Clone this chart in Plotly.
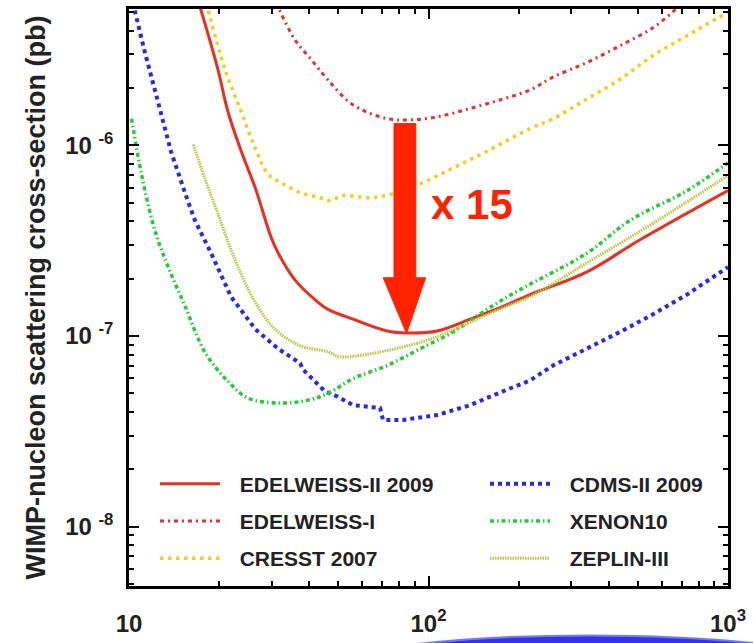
import plotly.graph_objects as go
import numpy as np

# ---------------- data (WIMP mass in GeV, cross-section in pb) ----------------
edw2_mass = [17.1, 19.8, 21.4, 23.7, 26.4, 29.8, 31.5, 35.8, 41.8, 46.2, 56.0, 72.7, 84.8, 106.8, 137.6, 177.3, 218.3, 338.2, 508.4, 1000]
edw2_sigma = [5.6e-6, 2.51e-6, 1.50e-6, 9.3e-7, 5.98e-7, 3.30e-7, 2.72e-7, 1.97e-7, 1.55e-7, 1.38e-7, 1.225e-7, 1.062e-7, 1.037e-7, 1.062e-7, 1.225e-7, 1.43e-7, 1.65e-7, 2.17e-7, 3.2e-7, 5.8e-7]

edw1_mass = [31.0, 35.8, 40.5, 46.2, 56.0, 72.7, 86.8, 106.8, 137.6, 177.3, 218.3, 260.4, 338.2, 435.9, 561.9, 670.5, 702.2]
edw1_sigma = [5.6e-6, 3.58e-6, 2.83e-6, 2.20e-6, 1.63e-6, 1.38e-6, 1.36e-6, 1.41e-6, 1.56e-6, 1.75e-6, 1.95e-6, 2.28e-6, 2.72e-6, 3.33e-6, 4.14e-6, 5.19e-6, 5.6e-6]

cresst_mass = [18.1, 20.9, 23.7, 26.4, 29.1, 32.2, 37.5, 43.4, 46.9, 51.8, 63.8, 76.1, 93.7, 120.7, 156.8, 218.3, 260.4, 338.2, 435.9, 561.9, 729.7, 1000]
cresst_sigma = [5.6e-6, 2.51e-6, 1.50e-6, 9.65e-7, 7.08e-7, 6.36e-7, 5.64e-7, 5.31e-7, 5.13e-7, 5.45e-7, 5.31e-7, 5.57e-7, 6.28e-7, 7.60e-7, 9.31e-7, 1.225e-6, 1.38e-6, 1.75e-6, 2.22e-6, 2.96e-6, 3.76e-6, 5.0e-6]

cdms_mass = [10.3, 11.3, 12.5, 13.8, 15.7, 16.6, 18.8, 21.9, 26.4, 31.5, 37.3, 38.0, 45.1, 49.5, 56.0, 68.9, 70.5, 82.2, 106.8, 137.6, 177.3, 218.3, 260.4, 338.2, 435.9, 561.9, 729.7, 1000]
cdms_sigma = [5.6e-6, 3.07e-6, 1.69e-6, 9.31e-7, 5.13e-7, 4.04e-7, 2.72e-7, 1.61e-7, 1.087e-7, 8.57e-8, 7.2e-8, 6.7e-8, 5.13e-8, 4.83e-8, 4.34e-8, 4.19e-8, 3.63e-8, 3.63e-8, 3.85e-8, 4.34e-8, 5.13e-8, 5.85e-8, 7.00e-8, 8.57e-8, 1.05e-7, 1.30e-7, 1.65e-7, 2.3e-7]

xenon_mass = [10.2, 11.0, 12.2, 13.5, 15.4, 17.9, 21.4, 25.0, 32.2, 39.6, 46.2, 56.0, 72.7, 93.7, 120.7, 156.8, 202.1, 338.2, 470.8, 729.7, 1000]
xenon_sigma = [1.38e-6, 7.08e-7, 3.58e-7, 2.31e-7, 1.43e-7, 8.26e-8, 5.78e-8, 4.72e-8, 4.45e-8, 4.61e-8, 5.00e-8, 5.98e-8, 7.00e-8, 8.57e-8, 1.05e-7, 1.38e-7, 1.75e-7, 2.72e-7, 4.04e-7, 5.78e-7, 8.1e-7]

zeplin_mass = [16.4, 17.9, 19.8, 22.6, 26.4, 30.7, 37.5, 46.2, 50.6, 63.8, 82.2, 106.8, 137.6, 177.3, 218.3, 338.2, 561.9, 1000]
zeplin_sigma = [1.01e-6, 6.74e-7, 4.39e-7, 2.51e-7, 1.50e-7, 1.087e-7, 8.87e-8, 8.26e-8, 7.78e-8, 8.07e-8, 8.77e-8, 9.89e-8, 1.18e-7, 1.41e-7, 1.61e-7, 2.42e-7, 3.90e-7, 6.95e-7]

# arrow marking the improvement factor (mass, cross-section polygon)
arrow_mass = [76.7, 90.7, 90.7, 97.8, 84.5, 70.6, 76.7, 76.7]
arrow_sigma = [1.30e-6, 1.30e-6, 2.02e-7, 2.02e-7, 1.03e-7, 2.02e-7, 2.02e-7, 1.30e-6]
arrow_label = "x 15"
arrow_label_pos = (139.6, 4.9e-7)

x_tickvals = [10, 100, 1000]
x_ticktext = ["10", "10<sup>2</sup>", "10<sup>3</sup>"]
y_tickvals = [1e-8, 1e-7, 1e-6]
y_ticktext = ["10 <sup>-8</sup>", "10 <sup>-7</sup>", "10 <sup>-6</sup>"]
x_minor = [20, 30, 40, 50, 60, 70, 80, 90, 200, 300, 400, 500, 600, 700, 800, 900]
y_minor = [v * 10.0 ** e for e in (-9, -8, -7, -6) for v in range(2, 10)]

FONT = "Liberation Sans, Arial, Helvetica, sans-serif"
GAP = "\u2002\u2009"  # spacing between legend sample and label

fig = go.Figure()

def add(name, xs, ys, color, width, dash, legend, group, shape="spline"):
    line = dict(color=color, width=width, dash=dash, shape=shape)
    if shape == "spline":
        line["smoothing"] = 1.0
    fig.add_trace(go.Scatter(
        x=xs, y=ys, mode="lines", name=GAP + name, line=line,
        legend=legend, legendgroup=group,
    ))

add("EDELWEISS-II 2009", edw2_mass, edw2_sigma, "#e8301c", 3, "solid", "legend", "a")
add("EDELWEISS-I", edw1_mass, edw1_sigma, "#dd3535", 3, "4px,4px,2px,4px", "legend", "b")
add("CRESST 2007", cresst_mass, cresst_sigma, "#f7cd1e", 3.5, "3.5px,4.5px", "legend", "c")
add("CDMS-II 2009", cdms_mass, cdms_sigma, "#2a2ae6", 4, "4px,4px", "legend2", "d", shape="linear")
add("XENON10", xenon_mass, xenon_sigma, "#22cc33", 3.5, "4px,3px,1.5px,3px", "legend2", "e")
add("ZEPLIN-III", zeplin_mass, zeplin_sigma, "#b8c83c", 3, "1.5px,1px", "legend2", "f")

fig.add_trace(go.Scatter(
    x=arrow_mass, y=arrow_sigma, mode="lines", fill="toself",
    fillcolor="#ff2200", line=dict(color="#ff2200", width=1),
    showlegend=False, hoverinfo="skip",
))

fig.add_annotation(
    x=np.log10(arrow_label_pos[0]), y=np.log10(arrow_label_pos[1]), xref="x", yref="y",
    text=arrow_label, showarrow=False,
    font=dict(family=FONT, size=42, color="#ff2200", weight="bold"),
)

axis_common = dict(
    type="log", showgrid=False, zeroline=False,
    showline=True, linecolor="black", linewidth=2.5, mirror="ticks",
    ticks="inside", ticklen=10, tickwidth=2, tickcolor="black",
    tickfont=dict(family=FONT, size=24, color="#222", weight="bold"),
)

fig.update_xaxes(
    **axis_common, range=[1, 3],
    tickvals=x_tickvals, ticktext=x_ticktext, ticklabelstandoff=14,
    minor=dict(tickvals=x_minor, ticks="inside", ticklen=5, tickwidth=2, tickcolor="black"),
)
fig.update_yaxes(
    **axis_common, range=[-8.311, -5.285],
    tickvals=y_tickvals, ticktext=y_ticktext, ticklabelstandoff=8,
    minor=dict(tickvals=y_minor, ticks="inside", ticklen=5, tickwidth=2, tickcolor="black"),
    title=dict(text="WIMP-nucleon scattering cross-section (pb)",
               font=dict(family=FONT, size=27, color="#222", weight="bold"), standoff=12),
)

legend_common = dict(
    font=dict(family=FONT, size=21, color="#222", weight="bold"),
    bgcolor="rgba(0,0,0,0)", borderwidth=0, itemwidth=60,
    tracegroupgap=7, xanchor="left", yanchor="top", orientation="v",
)

fig.update_layout(
    width=753, height=643,
    margin=dict(l=129, r=25, t=6, b=53),
    paper_bgcolor="white", plot_bgcolor="white",
    legend=dict(**legend_common, x=(155 - 129) / 599, y=(590 - 466) / 584),
    legend2=dict(**legend_common, x=(485 - 129) / 599, y=(590 - 466) / 584),
    shapes=[dict(type="circle", xref="paper", yref="paper",
                 x0=0.2187, x1=1.3205, y0=-0.291, y1=-0.0856,
                 fillcolor="#3232ea", line=dict(color="#7a7af2", width=2), layer="above")],
)

fig.write_html("out.html")
